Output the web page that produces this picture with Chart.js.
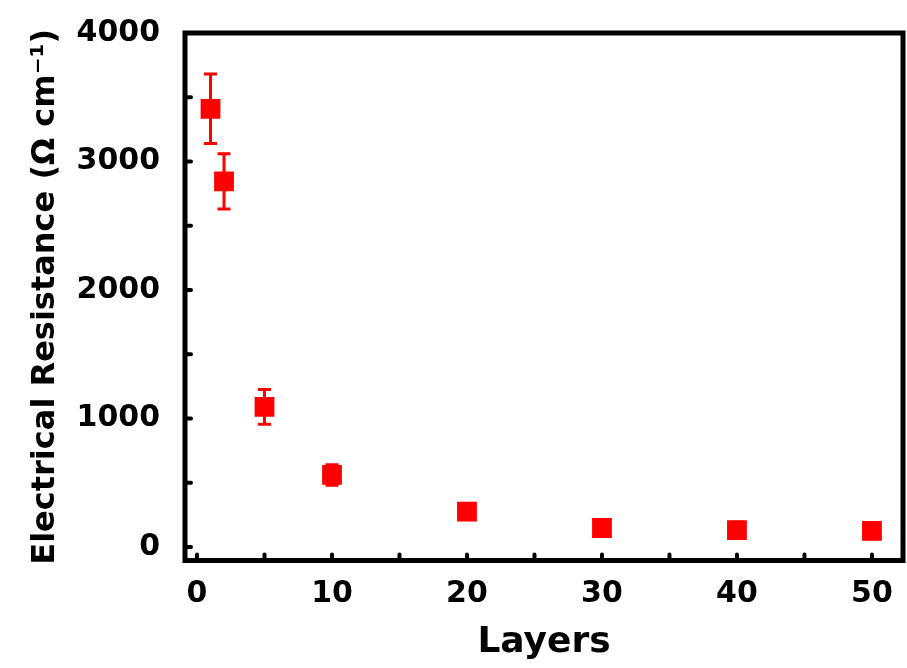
<!DOCTYPE html>
<html>
<head>
<meta charset="utf-8">
<script src="https://cdn.jsdelivr.net/npm/chart.js@4"></script>
<style>
  body { margin: 0; background: #fff; }
</style>
</head>
<body>
<canvas id="myChart" width="907" height="668"></canvas>
<script>
// data
var layers = [1, 2, 5, 10, 20, 30, 40, 50];
var resistance = [3410, 2845, 1090, 561, 275, 148, 132, 125];
var errors = [270, 215, 135, 80, 50, 60, 60, 60];
var xTicks = [0, 10, 20, 30, 40, 50];
var yTicks = [0, 1000, 2000, 3000, 4000];
var xMinor = [0, 5, 10, 15, 20, 25, 30, 35, 40, 45, 50];
var yMinor = [0, 500, 1000, 1500, 2000, 2500, 3000, 3500, 4000];

var points = layers.map(function (x, i) {
    return { x: x, y: resistance[i] };
});

var FONT = 'DejaVu Sans';

//error bars go under the squares
var errorBars = {
    id: 'errorBars',
    beforeDatasetsDraw: function (chart) {
        var c = chart.ctx;
        var xs = chart.scales.x, ys = chart.scales.y;
        c.save();
        c.strokeStyle = '#ff0000';
        c.lineWidth = 3;
        layers.forEach(function (x, i) {
            var px = xs.getPixelForValue(x);
            var top = ys.getPixelForValue(resistance[i] + errors[i]);
            var bot = ys.getPixelForValue(resistance[i] - errors[i]);
            c.beginPath();
            c.moveTo(px, top); c.lineTo(px, bot);
            c.moveTo(px - 6.5, top); c.lineTo(px + 6.5, top);
            c.moveTo(px - 6.5, bot); c.lineTo(px + 6.5, bot);
            c.stroke();
        });
        c.restore();
    }
};

//thick box round the plot with small inward ticks
var frame = {
    id: 'frame',
    afterDraw: function (chart) {
        var c = chart.ctx, a = chart.chartArea;
        var xs = chart.scales.x, ys = chart.scales.y;
        c.save();
        c.strokeStyle = '#000';
        c.lineWidth = 4;
        c.lineCap = 'round';
        c.beginPath();
        xMinor.forEach(function (v) {
            var px = xs.getPixelForValue(v);
            c.moveTo(px, a.bottom); c.lineTo(px, a.bottom - 6);
        });
        yMinor.forEach(function (v) {
            var py = ys.getPixelForValue(v);
            c.moveTo(a.left, py); c.lineTo(a.left + 6, py);
        });
        c.stroke();
        c.lineWidth = 5;
        c.lineCap = 'butt';
        c.strokeRect(a.left, a.top, a.right - a.left, a.bottom - a.top);
        c.restore();
    }
};

var plain = function (v) { return String(v); };

var ctx = document.getElementById('myChart');
var myChart = new Chart(ctx, {
    type: 'scatter',
    data: {
        datasets: [{
            data: points,
            pointStyle: 'rect',
            pointRadius: 14,
            pointBorderWidth: 0,
            backgroundColor: '#ff0000',
            borderColor: '#ff0000'
        }]
    },
    plugins: [errorBars, frame],
    options: {
        responsive: false,
        animation: false,
        layout: {
            autoPadding: false,
            padding: { left: 0, top: 33, right: 4, bottom: 0 }
        },
        plugins: {
            legend: { display: false },
            tooltip: { enabled: false }
        },
        scales: {
            x: {
                type: 'linear',
                min: -0.89,
                max: 52.3,
                grid: { display: false },
                border: { display: false },
                afterBuildTicks: function (s) {
                    s.ticks = xTicks.map(function (v) { return { value: v }; });
                },
                afterFit: function (s) {
                    s.height = 668 - 560.5;
                    s.paddingLeft = 0;
                    s.paddingRight = 0;
                },
                ticks: {
                    color: '#000',
                    padding: 8,
                    maxRotation: 0,
                    callback: plain,
                    font: { family: FONT, weight: 'bold', size: 30 }
                },
                title: {
                    display: true,
                    text: 'Layers',
                    color: '#000',
                    padding: { top: 0, bottom: 4 },
                    font: { family: FONT, weight: 'bold', size: 36 }
                }
            },
            y: {
                type: 'linear',
                min: -105,
                max: 4000,
                grid: { display: false },
                border: { display: false },
                afterBuildTicks: function (s) {
                    s.ticks = yTicks.map(function (v) { return { value: v }; });
                },
                afterFit: function (s) {
                    s.width = 185;
                    s.paddingTop = 0;
                    s.paddingBottom = 0;
                },
                ticks: {
                    color: '#000',
                    padding: 17,
                    callback: plain,
                    font: { family: FONT, weight: 'bold', size: 30 }
                },
                title: {
                    display: true,
                    text: 'Electrical Resistance (Ω cm⁻¹)',
                    color: '#000',
                    padding: { top: 26, bottom: 0 },
                    font: { family: FONT, weight: 'bold', size: 32 }
                }
            }
        }
    }
});
</script>
</body>
</html>
